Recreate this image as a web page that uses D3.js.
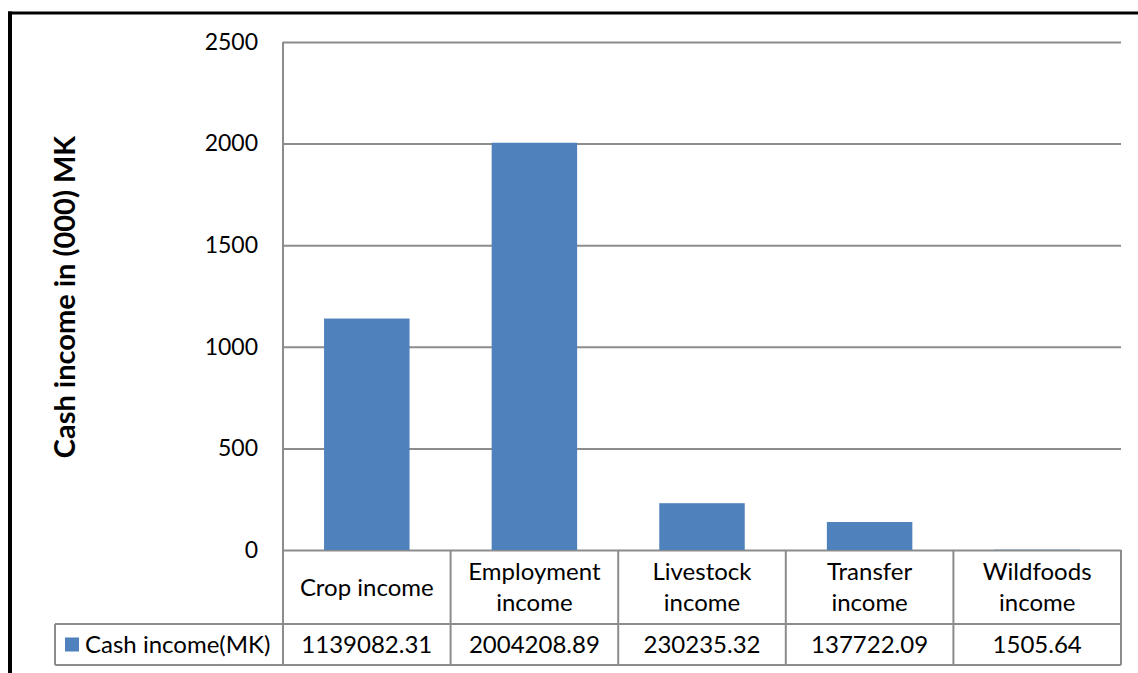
<!DOCTYPE html>
<html>
<head>
<meta charset="utf-8">
<script src="https://cdn.jsdelivr.net/npm/d3@7"></script>
<style>
  html, body { margin: 0; padding: 0; background: #fff; }
  svg { display: block; }
  text { font-family: Lato, "Open Sans", sans-serif; fill: #000; }
</style>
</head>
<body>
<svg id="chart" width="1138" height="673"></svg>
<script>
// Income sources and cash income (MK) per source
const categories = [
  ["Crop income"],
  ["Employment", "income"],
  ["Livestock", "income"],
  ["Transfer", "income"],
  ["Wildfoods", "income"]
];
const cashIncome = [1139082.31, 2004208.89, 230235.32, 137722.09, 1505.64];
const cashIncomeLabels = ["1139082.31", "2004208.89", "230235.32", "137722.09", "1505.64"];
const yTicks = [0, 500, 1000, 1500, 2000, 2500];
const seriesName = "Cash income(MK)";
const yTitle = "Cash income in (000) MK";

const svg = d3.select("#chart");
const W = 1138, H = 673;
const m = { left: 283, right: 1121, top: 42, bottom: 550 };
const tableRow1 = 624, tableBottom = 665, legendLeft = 55;
const gridColor = "#8c8c8c";
const barColor = "#4f81bd";
const labelSize = 24;

const keys = categories.map(c => c.join(" "));
const x = d3.scaleBand().domain(keys).range([m.left, m.right]).padding(0);
const y = d3.scaleLinear().domain([0, 2500]).range([m.bottom, m.top]);

// outer frame (top and left edges)
svg.append("line").attr("x1", 8).attr("x2", W).attr("y1", 13).attr("y2", 13)
  .attr("stroke", "#000").attr("stroke-width", 3);
svg.append("line").attr("x1", 10).attr("x2", 10).attr("y1", 11.5).attr("y2", H)
  .attr("stroke", "#000").attr("stroke-width", 4);

// horizontal gridlines from the axis
const yAxis = d3.axisLeft(y).tickValues(yTicks).tickSize(-(m.right - m.left)).tickPadding(25).tickFormat(d3.format("d"));
const gy = svg.append("g").attr("transform", `translate(${m.left},0)`).call(yAxis);
gy.select(".domain").remove();
gy.selectAll(".tick line").attr("stroke", gridColor).attr("stroke-width", 2);
gy.selectAll(".tick text").attr("font-size", 23).attr("font-family", "Lato").attr("fill", "#000");

// bars (values in thousands)
const barFrac = 0.51;
svg.append("g").selectAll("rect").data(cashIncome).join("rect")
  .attr("x", (d, i) => x(keys[i]) + x.bandwidth() * (1 - barFrac) / 2)
  .attr("width", x.bandwidth() * barFrac)
  .attr("y", d => y(d / 1000))
  .attr("height", d => y(0) - y(d / 1000))
  .attr("fill", barColor);

// data table under the plot
const tbl = svg.append("g").attr("stroke", gridColor).attr("stroke-width", 2).attr("fill", "none");
// vertical axis line continuing into the table
tbl.append("line").attr("x1", m.left).attr("x2", m.left).attr("y1", m.top).attr("y2", tableBottom);
// category boundaries
keys.forEach((k, i) => {
  tbl.append("line").attr("x1", x(k) + x.bandwidth()).attr("x2", x(k) + x.bandwidth())
    .attr("y1", m.bottom).attr("y2", tableBottom);
});
tbl.append("line").attr("x1", legendLeft).attr("x2", m.right).attr("y1", tableRow1).attr("y2", tableRow1);
tbl.append("line").attr("x1", legendLeft).attr("x2", m.right).attr("y1", tableBottom).attr("y2", tableBottom);
tbl.append("line").attr("x1", legendLeft).attr("x2", legendLeft).attr("y1", tableRow1).attr("y2", tableBottom);

// category labels
const catG = svg.append("g").attr("font-size", labelSize).attr("text-anchor", "middle");
categories.forEach((lines, i) => {
  const cx = x(keys[i]) + x.bandwidth() / 2;
  const midY = (m.bottom + tableRow1) / 2;
  const lh = 31;
  lines.forEach((ln, j) => {
    catG.append("text").attr("x", cx)
      .attr("y", midY + (j - (lines.length - 1) / 2) * lh)
      .attr("dy", "0.36em").text(ln);
  });
});

// value row
const valG = svg.append("g").attr("font-size", labelSize).attr("text-anchor", "middle");
cashIncomeLabels.forEach((v, i) => {
  valG.append("text").attr("x", x(keys[i]) + x.bandwidth() / 2)
    .attr("y", (tableRow1 + tableBottom) / 2).attr("dy", "0.36em").text(v);
});

// legend key in the table
svg.append("rect").attr("x", 65).attr("y", 637.5).attr("width", 14).attr("height", 14).attr("fill", barColor);
svg.append("text").attr("x", 85).attr("y", (tableRow1 + tableBottom) / 2).attr("dy", "0.36em")
  .attr("font-size", labelSize).text(seriesName);

// y axis title
svg.append("text").attr("transform", `translate(65,297) rotate(-90)`)
  .attr("text-anchor", "middle").attr("dy", "0.36em")
  .attr("font-size", 29).attr("font-weight", "bold").text(yTitle);
</script>
</body>
</html>
